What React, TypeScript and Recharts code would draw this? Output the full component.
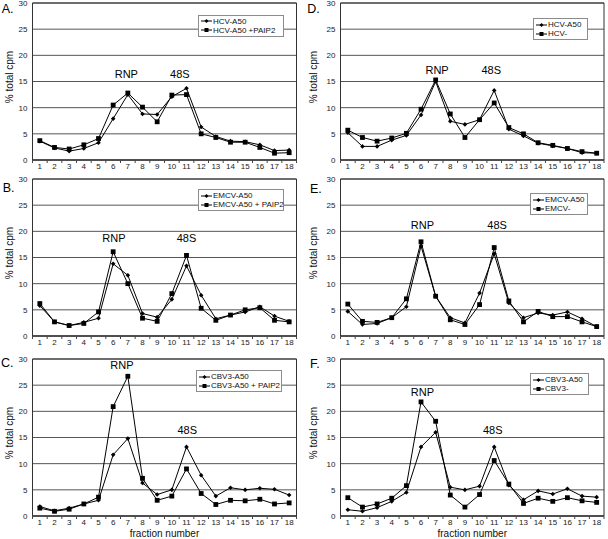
import React from 'react';
import { LineChart, Line, XAxis, YAxis, CartesianGrid, ReferenceArea, ReferenceDot, Legend } from 'recharts';

const FONT = '"Liberation Sans", Arial, Helvetica, sans-serif';

const fractions = [1, 2, 3, 4, 5, 6, 7, 8, 9, 10, 11, 12, 13, 14, 15, 16, 17, 18];
const yTicks = [0, 5, 10, 15, 20, 25, 30];

// A. HCV
const hcvA50 = [3.6, 2.3, 1.7, 2.2, 3.3, 7.9, 12.5, 8.8, 8.7, 12.1, 13.7, 6.3, 4.5, 3.6, 3.5, 2.9, 1.8, 1.9];
const hcvA50Paip2 = [3.7, 2.4, 2.1, 2.9, 4.1, 10.5, 12.8, 10.1, 7.3, 12.4, 12.5, 5.0, 4.3, 3.4, 3.4, 2.4, 1.3, 1.4];
// D. HCV
const hcvA50d = [5.2, 2.6, 2.6, 3.8, 4.7, 8.6, 15.0, 7.4, 6.8, 7.7, 13.3, 5.9, 4.6, 3.2, 2.7, 2.2, 1.4, 1.3];
const hcvMinus = [5.7, 4.3, 3.6, 4.2, 5.1, 9.7, 15.3, 8.8, 4.3, 7.7, 10.9, 6.2, 5.0, 3.3, 2.8, 2.2, 1.6, 1.3];
// B. EMCV
const emcvA50 = [5.8, 2.7, 2.0, 2.6, 3.4, 13.8, 11.6, 4.3, 3.6, 7.0, 13.4, 7.8, 3.3, 4.0, 4.6, 5.6, 3.8, 2.8];
const emcvA50Paip2 = [6.2, 2.7, 2.0, 2.4, 4.6, 16.1, 10.0, 3.4, 2.8, 8.1, 15.4, 5.3, 3.0, 4.0, 5.0, 5.4, 3.0, 2.7];
// E. EMCV
const emcvA50e = [4.7, 2.2, 2.4, 3.5, 5.6, 17.2, 7.6, 3.5, 2.5, 8.2, 15.7, 6.3, 3.5, 4.4, 4.0, 4.6, 3.3, 1.8];
const emcvMinus = [6.1, 2.8, 2.6, 3.5, 7.1, 18.0, 7.6, 3.1, 2.2, 6.0, 16.9, 6.7, 2.7, 4.7, 3.7, 3.7, 2.7, 1.8];
// C. CBV3
const cbv3A50 = [1.8, 1.0, 1.5, 2.3, 3.0, 11.7, 14.8, 6.3, 4.1, 5.0, 13.2, 7.8, 3.8, 5.4, 5.0, 5.3, 5.1, 4.0];
const cbv3A50Paip2 = [1.5, 0.9, 1.3, 2.3, 3.6, 20.9, 26.7, 7.2, 3.0, 3.8, 9.0, 4.3, 2.2, 3.0, 2.9, 3.2, 2.3, 2.5];
// F. CBV3
const cbv3A50f = [1.2, 0.9, 1.6, 2.8, 4.5, 13.2, 16.0, 5.5, 5.0, 5.7, 13.2, 5.9, 3.1, 4.8, 4.2, 5.2, 3.8, 3.6];
const cbv3Minus = [3.5, 1.7, 2.3, 3.4, 5.8, 21.8, 18.1, 4.0, 1.7, 4.1, 10.6, 6.1, 2.4, 3.4, 2.8, 3.5, 2.9, 2.6];

const BAND = 264 / 18;

const DiamondDot = (props: any) => {
  const { cx, cy, index } = props;
  if (cx == null || cy == null) return <g key={`d-${index}`} />;
  const s = 2.3;
  return (
    <polygon
      key={`d-${index}`}
      points={`${cx},${cy - s} ${cx + s},${cy} ${cx},${cy + s} ${cx - s},${cy}`}
      fill="#000"
    />
  );
};

const SquareDot = (props: any) => {
  const { cx, cy, index } = props;
  if (cx == null || cy == null) return <g key={`s-${index}`} />;
  return <rect key={`s-${index}`} x={cx - 2.4} y={cy - 2.4} width={4.8} height={4.8} fill="#000" />;
};

const FractionTick = (props: any) => {
  const { x, y, payload, index } = props;
  const h = BAND / 2;
  return (
    <g>
      {index === 0 && <line x1={x - h} x2={x - h} y1={y} y2={y + 3} stroke="#444" />}
      <line x1={x + h} x2={x + h} y1={y} y2={y + 3} stroke="#444" />
      <text x={x} y={y + 8.5} textAnchor="middle" fontSize={8} fill="#222" fontFamily={FONT}>
        {payload.value}
      </text>
    </g>
  );
};

// legend keeps the series order (diamond series first, square series second)
const LegendBox = ({ names, width }: any) => (
  <div
    style={{
      boxSizing: 'border-box',
      width,
      border: '1px solid #8c8c8c',
      background: '#fff',
      padding: '1px 2px',
      fontFamily: FONT,
      fontSize: 8,
      lineHeight: '9px',
      color: '#111',
    }}
  >
    {names.map((name: string, i: number) => (
      <div key={i} style={{ display: 'flex', alignItems: 'center', whiteSpace: 'nowrap', height: 9 }}>
        <svg width={11} height={8} style={{ flex: 'none' }}>
          <line x1={0} y1={4} x2={11} y2={4} stroke="#000" />
          {i === 0 ? (
            <polygon points="5.5,2 7.5,4 5.5,6 3.5,4" fill="#000" />
          ) : (
            <rect x={3.5} y={2} width={4} height={4} fill="#000" />
          )}
        </svg>
        <span style={{ marginLeft: 1 }}>{name}</span>
      </div>
    ))}
  </div>
);

type PanelProps = {
  letter: string;
  letterPos: [number, number];
  names: [string, string];
  first: number[];
  second: number[];
  marks: { text: string; x: number; y: number }[];
  left: number;
  top: number;
  right: boolean;
  bottomRow: boolean;
  legend: { x: number; y: number; w: number };
};

const Panel = (p: PanelProps) => {
  const data = fractions.map((f, i) => ({ fraction: f, a: p.first[i], b: p.second[i] }));
  const yAxisWidth = p.right ? 36.5 : 32.5;
  const marginRight = p.right ? 4 : 7.5;
  const xHeight = p.bottomRow ? 23.5 : 17;
  const height = 3 + 157 + xHeight;
  return (
    <div style={{ position: 'absolute', left: p.left, top: p.top, width: 304, height }}>
      <LineChart width={304} height={height} data={data} margin={{ top: 3, right: marginRight, bottom: 0, left: 0 }}>
        <CartesianGrid vertical={false} stroke="#555" />
        <ReferenceArea x1={0.5} x2={18.5} y1={0} y2={30} fill="none" stroke="#333" />
        <XAxis
          dataKey="fraction"
          type="number"
          domain={[0.5, 18.5]}
          ticks={fractions}
          interval={0}
          height={xHeight}
          tickSize={0}
          tickMargin={0}
          tickLine={false}
          stroke="#333"
          tick={FractionTick}
          label={
            p.bottomRow
              ? (lp: any) => {
                  const vb = lp.viewBox || {};
                  return (
                    <text
                      x={vb.x + vb.width / 2}
                      y={vb.y + 21}
                      textAnchor="middle"
                      fontSize={10}
                      fill="#111"
                      fontFamily={FONT}
                    >
                      fraction number
                    </text>
                  );
                }
              : undefined
          }
        />
        <YAxis
          type="number"
          domain={[0, 30]}
          ticks={yTicks}
          interval={0}
          width={yAxisWidth}
          tickSize={0}
          tickMargin={5}
          tickLine={false}
          stroke="#333"
          tick={{ fontSize: 8, fill: '#222', fontFamily: FONT }}
          label={(lp: any) => {
            const vb = lp.viewBox || {};
            return (
              <text
                transform={`translate(9, ${vb.y + vb.height / 2 - 4.5}) rotate(-90)`}
                textAnchor="middle"
                dominantBaseline="central"
                fontSize={10}
                fill="#111"
                fontFamily={FONT}
              >
                % total cpm
              </text>
            );
          }}
        />
        {p.marks.map((m) => (
          <ReferenceDot
            key={m.text}
            x={m.x}
            y={m.y}
            r={0}
            fill="none"
            stroke="none"
            label={{ value: m.text, position: 'center', fontSize: 11, fill: '#000', fontFamily: FONT }}
          />
        ))}
        <Line
          type="linear"
          dataKey="a"
          name={p.names[0]}
          stroke="#000"
          strokeWidth={1}
          dot={DiamondDot}
          activeDot={false}
          isAnimationActive={false}
        />
        <Line
          type="linear"
          dataKey="b"
          name={p.names[1]}
          stroke="#000"
          strokeWidth={1}
          dot={SquareDot}
          activeDot={false}
          isAnimationActive={false}
        />
        <Legend
          layout="horizontal"
          verticalAlign="middle"
          align="center"
          wrapperStyle={{ left: p.legend.x, top: p.legend.y, width: p.legend.w, height: 'auto' }}
          content={() => <LegendBox names={p.names} width={p.legend.w} />}
        />
      </LineChart>
      <div
        style={{
          position: 'absolute',
          left: p.letterPos[0],
          top: p.letterPos[1] - 10.6,
          fontFamily: FONT,
          fontSize: 12.5,
          lineHeight: '12.5px',
          color: '#000',
        }}
      >
        {p.letter}
      </div>
    </div>
  );
};

export default function App() {
  return (
    <div style={{ position: 'absolute', left: 0, top: 0, width: 608, height: 539, background: '#fff', overflow: 'hidden' }}>
      <Panel
        letter="A." letterPos={[1.7, 13.3]} names={['HCV-A50', 'HCV-A50 +PAIP2']}
        first={hcvA50} second={hcvA50Paip2}
        marks={[{ text: 'RNP', x: 6.9, y: 16.4 }, { text: '48S', x: 10.55, y: 16.4 }]}
        left={0} top={0} right={false} bottomRow={false} legend={{ x: 198, y: 14.5, w: 86 }}
      />
      <Panel
        letter="D." letterPos={[3.3, 13.3]} names={['HCV-A50', 'HCV-']}
        first={hcvA50d} second={hcvMinus}
        marks={[{ text: 'RNP', x: 7.1, y: 17.2 }, { text: '48S', x: 10.8, y: 17.2 }]}
        left={304} top={0} right={true} bottomRow={false} legend={{ x: 229, y: 18, w: 55 }}
      />
      <Panel
        letter="B." letterPos={[2.7, 16.3]} names={['EMCV-A50', 'EMCV-A50 + PAIP2']}
        first={emcvA50} second={emcvA50Paip2}
        marks={[{ text: 'RNP', x: 6.05, y: 18.7 }, { text: '48S', x: 11.0, y: 18.7 }]}
        left={0} top={176} right={false} bottomRow={false} legend={{ x: 198, y: 13, w: 86 }}
      />
      <Panel
        letter="E." letterPos={[6, 17.3]} names={['EMCV-A50', 'EMCV-']}
        first={emcvA50e} second={emcvMinus}
        marks={[{ text: 'RNP', x: 6.1, y: 21.1 }, { text: '48S', x: 11.2, y: 21.1 }]}
        left={304} top={176} right={true} bottomRow={false} legend={{ x: 226, y: 17, w: 58 }}
      />
      <Panel
        letter="C." letterPos={[1, 12.2]} names={['CBV3-A50', 'CBV3-A50 + PAIP2']}
        first={cbv3A50} second={cbv3A50Paip2}
        marks={[{ text: 'RNP', x: 6.6, y: 28.8 }, { text: '48S', x: 11.05, y: 16.5 }]}
        left={0} top={355.5} right={false} bottomRow={true} legend={{ x: 196, y: 14.5, w: 86 }}
      />
      <Panel
        letter="F." letterPos={[6, 13.5]} names={['CBV3-A50', 'CBV3-']}
        first={cbv3A50f} second={cbv3Minus}
        marks={[{ text: 'RNP', x: 6.1, y: 23.6 }, { text: '48S', x: 10.9, y: 16.4 }]}
        left={304} top={355.5} right={true} bottomRow={true} legend={{ x: 226, y: 17.5, w: 59 }}
      />
    </div>
  );
}
